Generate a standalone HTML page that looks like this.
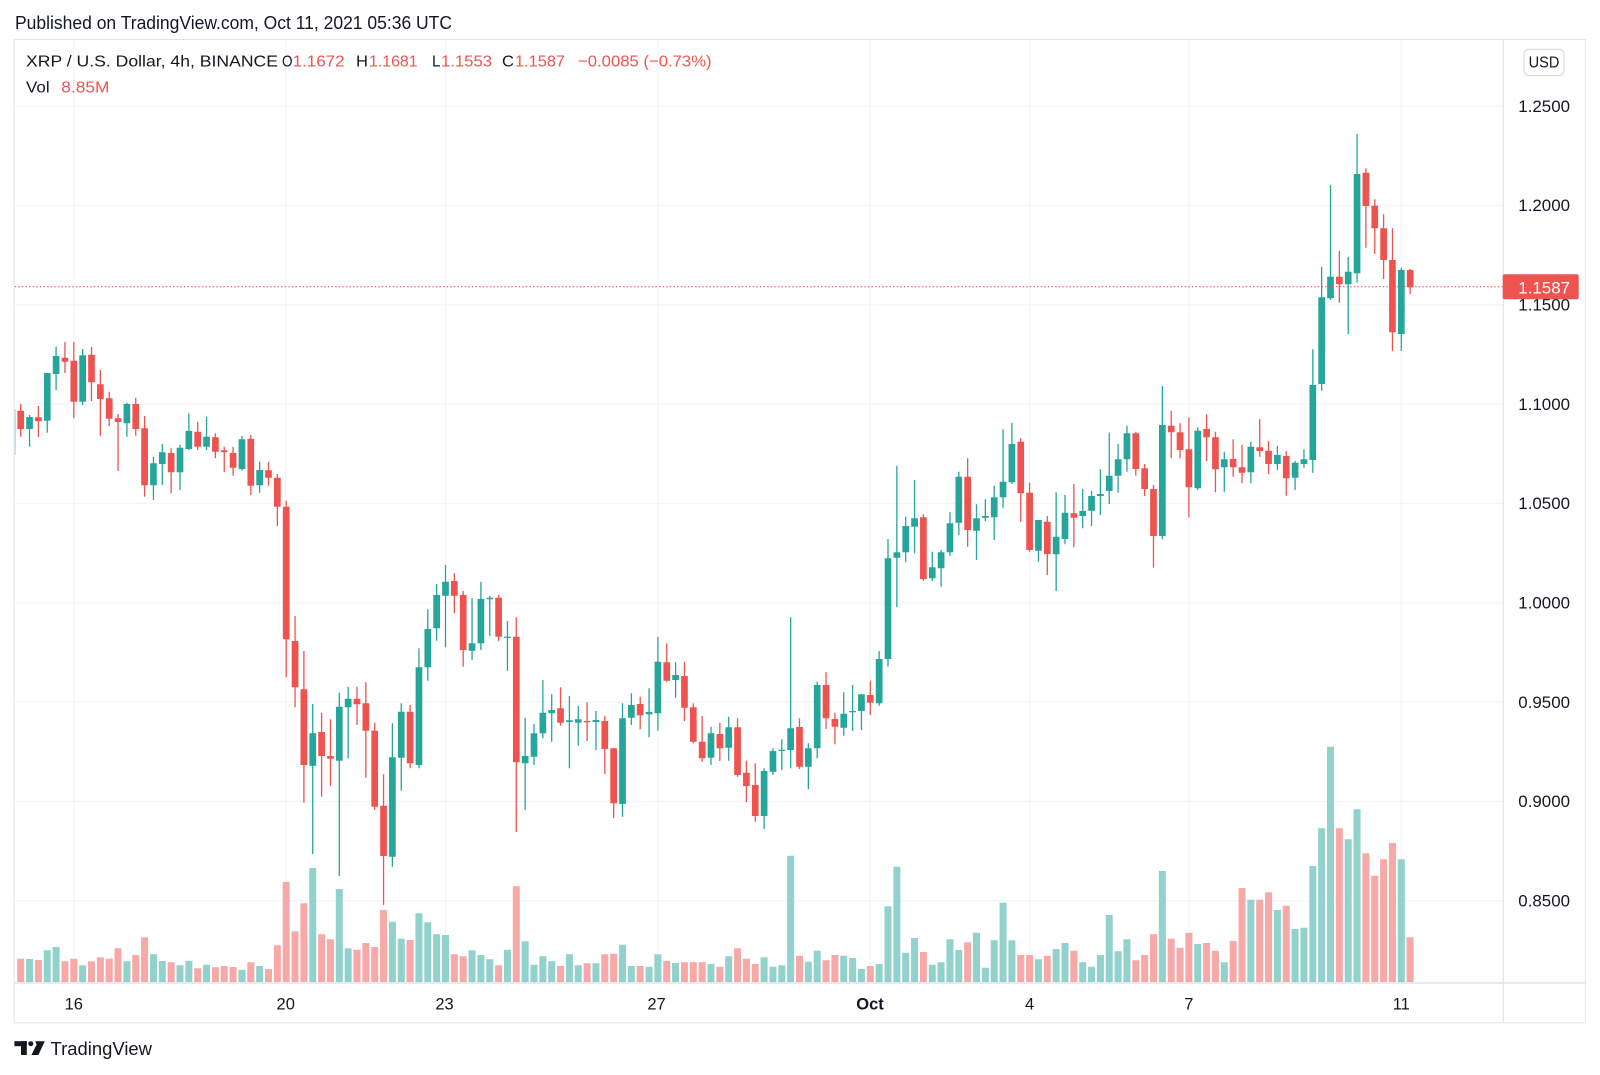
<!DOCTYPE html>
<html><head><meta charset="utf-8"><style>
html,body{margin:0;padding:0;background:#fff;}
svg{display:block;font-family:"Liberation Sans","DejaVu Sans",sans-serif;}
</style></head><body>
<svg width="1600" height="1075" viewBox="0 0 1600 1075" xmlns="http://www.w3.org/2000/svg">
<rect x="0" y="0" width="1600" height="1075" fill="#fff"/>
<text x="15" y="29" font-size="18" fill="#131722" textLength="437" lengthAdjust="spacingAndGlyphs">Published on TradingView.com, Oct 11, 2021 05:36 UTC</text>
<defs><clipPath id="cp"><rect x="14.7" y="40" width="1488.3" height="943"/></clipPath></defs>
<g stroke="#f0f3fa" stroke-width="1">
<path d="M14.7 106H1503M14.7 205.4H1503M14.7 304.7H1503M14.7 404H1503M14.7 503.4H1503M14.7 602.7H1503M14.7 702H1503M14.7 801.4H1503M14.7 900.7H1503"/>
<path d="M73.8 40V983M285.7 40V983M445.5 40V983M657.9 40V983M870.3 40V983M1029.6 40V983M1188.9 40V983M1401.3 40V983"/>
</g>
<g clip-path="url(#cp)">
<rect x="14.5" y="409" width="1" height="46" fill="#7cc8c0"/>
<g transform="translate(20.7,0) scale(8.85,1)" fill="none">
<path stroke="#92d2cc" stroke-width="0.791" d="M1 959V982M3 950.3V982M4 947V982M7 965.3V982M12 961.3V982M15 954.3V982M16 961V982M18 965.3V982M19 960.7V982M21 964.7V982M25 969.7V982M27 966V982M33 868V982M36 889V982M37 948.3V982M42 921.7V982M43 938.7V982M45 913.3V982M46 922.3V982M47 934.3V982M48 935V982M51 950.3V982M52 955V982M53 959.3V982M55 949.7V982M57 941.3V982M58 964.7V982M59 956.3V982M60 961.3V982M62 954.3V982M63 965.3V982M65 963.3V982M68 944.7V982M69 966V982M71 966.7V982M72 954.3V982M74 963V982M78 964V982M80 956.3V982M84 957.3V982M85 966.7V982M86 965.3V982M87 855.7V982M89 961.7V982M90 950.7V982M93 955.7V982M94 958V982M95 969V982M97 964V982M98 906.3V982M99 866.7V982M100 952.7V982M101 938V982M103 964.7V982M104 962.3V982M105 939.3V982M106 950V982M108 932.7V982M109 967.7V982M110 940.3V982M111 902.7V982M112 940.3V982M115 959.3V982M117 949V982M118 943V982M120 962.3V982M121 966.7V982M122 955V982M123 915V982M124 951.3V982M125 939.3V982M129 871V982M133 944V982M136 962.3V982M139 899.7V982M142 910V982M144 929V982M145 927.7V982M146 866V982M147 828.3V982M148 746.7V982M150 839.3V982M151 809.3V982M156 859.3V982"/>
<path stroke="#f7a9a7" stroke-width="0.791" d="M0 958.7V982M2 960V982M5 961.3V982M6 958.7V982M8 961.3V982M9 957.3V982M10 958.7V982M11 948.3V982M13 955V982M14 937.3V982M17 962.3V982M20 968.3V982M22 967.3V982M23 966V982M24 967V982M26 962.3V982M28 969V982M29 945.3V982M30 882V982M31 931.3V982M32 903.3V982M34 934.3V982M35 939.3V982M38 949.7V982M39 943V982M40 947V982M41 910V982M44 940V982M49 954.3V982M50 956.3V982M54 965.3V982M56 886.3V982M61 966V982M64 963.3V982M66 954.3V982M67 953.7V982M70 966V982M73 961V982M75 962.3V982M76 962.3V982M77 962.3V982M79 966.7V982M81 948.3V982M82 958.7V982M83 964V982M88 955.7V982M91 960.3V982M92 955V982M96 966V982M102 952V982M107 942.3V982M113 955V982M114 955V982M116 955.7V982M119 950.7V982M126 960.3V982M127 955V982M128 934.3V982M130 938.7V982M131 947.7V982M132 932.7V982M134 943V982M135 950.7V982M137 941V982M138 888V982M140 899.7V982M141 892.3V982M143 905.7V982M149 828.3V982M152 853.3V982M153 875.7V982M154 859.3V982M155 843V982M157 937.3V982"/>
<path stroke="#26a69a" stroke-width="0.147" d="M1 415V446.7M3 373V432.7M4 346.7V390M7 349V405M12 402.7V436.7M15 456.7V500M16 444V485M18 444.7V490M19 413.3V450M21 416.7V450M25 436V470.7M27 461.7V492.7M33 704V854M36 692.7V876M37 686.7V758.3M42 723.3V866.7M43 703.3V790.7M45 648.3V768.3M46 609.3V680.7M47 584V640.7M48 565V647.3M51 598.3V660M52 581.7V650M53 596V636M55 621V670.7M57 717.7V810M58 724V765M59 680V738.3M60 694.3V741.7M62 696V768.3M63 706V745.7M65 711V750M68 703.3V816.7M69 693.3V725M71 688.3V737.3M72 636.7V730.7M74 662.3V697.7M78 726.7V765M80 716.7V760.7M84 768.3V829M85 748.3V775M86 739.3V770M87 617.3V768.3M89 743.3V789.3M90 681.7V758.3M93 692.3V735.7M94 685V731M95 694.3V730M97 651V705.7M98 539V666.7M99 465.7V607.3M100 516.7V562.3M101 480V553.3M103 551.7V581M104 550V586.7M105 512.3V555.7M106 471.7V535M108 504.3V560M109 499.3V521M110 485.7V540M111 429.3V507.7M112 422.7V484M115 520V561.7M117 492.3V591M118 495V544.3M120 489V528.3M121 491V526M122 469.3V515M123 432.7V504M124 444V492.7M125 425.7V471.7M129 386V539.3M133 427.3V490M136 451.7V491.7M139 441.7V483.3M142 446V470M144 461V490M145 449.3V467.7M146 349.3V472.7M147 266.7V390.7M148 185V300M150 256.7V334M151 134V282.7M156 267.7V351"/>
<path stroke="#26a69a" stroke-width="0.757" d="M1 417V429M3 373V420.7M4 356V374M7 355.3V401.7M12 404V423.3M15 463.3V485.3M16 452.3V464M18 447.7V472.3M19 431V449M21 436.7V446.7M25 439.3V469M27 470V485.3M33 733.3V765.7M36 706.7V760.7M37 698.7V707.3M42 757.3V856.7M43 711.7V757.7M45 667.3V765M46 629V667.3M47 595V628.3M48 581.7V595.7M51 643.3V650.7M52 599V643.3M53 597.7V599.3M55 636.7V638M57 756V763.3M58 733.3V756.7M59 712.7V733.3M60 710V713.3M62 720.3V722M63 719.3V722.7M65 720V722M68 718.3V804M69 705V717.7M71 712V714.3M72 661.7V713.3M74 675V680M78 733.3V757.7M80 727.3V747.7M84 771V816M85 751V771.7M86 749.7V751M87 728.3V750M89 748.3V766.7M90 685V748.3M93 713.7V727.7M94 711V712.3M95 694.3V711M97 659V703.3M98 558.3V659M99 552.3V557.7M100 526V552.3M101 518.3V526.7M103 567.3V578.3M104 552.3V568.3M105 523.3V552.3M106 476.7V522.7M108 518.3V530.7M109 516V517.7M110 497.3V517.3M111 481.7V497.3M112 444V482.3M115 520V550.7M117 536.7V554.3M118 512.7V539M120 511V516M121 496V510.7M122 494V496M123 475.7V491M124 459.3V475.7M125 433.3V459.3M129 425V536M133 430.7V488.3M136 459.3V467.3M139 446.7V472.3M142 455V464M144 462.7V477.7M145 459.3V464M146 385V460M147 297.3V384M148 276.7V298.3M150 271.7V284.3M151 174V273.3M156 270V334"/>
<path stroke="#ef5350" stroke-width="0.147" d="M0 404V436.7M2 406V437M5 342V373M6 342V418.3M8 347V401M9 370V435.7M10 391.7V426M11 414V471M13 397.7V435.7M14 416V496.7M17 448.3V493.3M20 421.7V450M22 433.3V458.3M23 446.7V472.3M24 446.7V475.7M26 435V495M28 461.7V485.7M29 474V526M30 500.7V677.3M31 616V707.3M32 651V802.7M34 712.7V796.7M35 719.3V786M38 686.7V725M39 682.3V777.7M40 722.7V810M41 774.3V905M44 705V768.3M49 573.3V613.3M50 591V666.7M54 595V641M56 617.3V832M61 687.3V725.7M64 702.3V741M66 716V774M67 748.3V818.3M70 696.7V729.3M73 643.3V681.7M75 661.7V721M76 703.3V743.3M77 716V761.7M79 722.7V761M81 718.3V776.7M82 760.7V802.3M83 763.3V821.7M88 718.3V769M91 672.3V729M92 712.7V744.3M96 680.7V715M102 514.3V580.7M107 458.3V546.7M113 438.3V521.7M114 482.7V551.7M116 516V575M119 484V547.3M126 431.7V475.7M127 464V496M128 485V567.7M130 410.7V458.3M131 423.3V458.3M132 417.3V517.3M134 414.3V461M135 431.7V492.3M137 439.3V476.7M138 445V483.3M140 419V456.7M141 441V474.3M143 451V495.7M149 251V302.7M152 168.3V247.7M153 199.3V254M154 214.3V279M155 228.3V351M157 269V294"/>
<path stroke="#ef5350" stroke-width="0.757" d="M0 410.7V429M2 417.3V421.3M5 357.7V361.7M6 360.7V401.7M8 354.7V382.3M9 384.3V399M10 398.3V418.7M11 418.3V422M13 404V429M14 428.3V485.3M17 453V472.3M20 431.7V446.7M22 437.3V451.7M23 450.3V452.3M24 453V467.7M26 438.7V485.7M28 470.3V477.7M29 477.7V506.7M30 506.7V639.3M31 641V687.3M32 689.3V765M34 732V756M35 756V758.7M38 698.7V704.3M39 703.3V730.7M40 730.7V806.7M41 805.7V856M44 711.7V763.3M49 581V595.7M50 595V650M54 597.7V636.7M56 636.7V762.3M61 708.3V722.7M64 721V722.3M66 721V749M67 748.3V803.3M70 704V715.3M73 662.3V680.7M75 676V707.7M76 707.3V741.7M77 741.7V758.3M79 734V748.3M81 727.3V775M82 772.7V786M83 785V816M88 727V766.7M91 685V718.3M92 719V726.7M96 695V702.7M102 517.3V579M107 476.7V530M113 441.7V493.3M114 492.7V550M116 521.7V554M119 513.3V517.7M126 433.3V469M127 468.3V489M128 489V536M130 425.7V432.3M131 432.3V450M132 449.3V487.3M134 429V437.3M135 437.3V469.3M137 459V467.3M138 467.3V472.7M140 447.3V451M141 450.7V464M143 456V478.3M149 276.7V284.3M152 172.7V206M153 205.7V228.3M154 228.3V260M155 260V332.3M157 270V287.3"/>
</g>
</g>
<line x1="14.7" y1="286.7" x2="1503" y2="286.7" stroke="#ef5350" stroke-width="1.2" stroke-dasharray="1.4 2.2"/>
<!-- legend -->
<g font-size="16">
<text x="26" y="66.7" fill="#131722" textLength="252" lengthAdjust="spacingAndGlyphs">XRP / U.S. Dollar, 4h, BINANCE</text>
<text x="282" y="66.7" fill="#131722" textLength="10.5" lengthAdjust="spacingAndGlyphs">O</text>
<text x="292.6" y="66.7" fill="#ef5350" textLength="52" lengthAdjust="spacingAndGlyphs">1.1672</text>
<text x="356" y="66.7" fill="#131722" textLength="12" lengthAdjust="spacingAndGlyphs">H</text>
<text x="369" y="66.7" fill="#ef5350" textLength="48.6" lengthAdjust="spacingAndGlyphs">1.1681</text>
<text x="432" y="66.7" fill="#131722" textLength="8.5" lengthAdjust="spacingAndGlyphs">L</text>
<text x="441" y="66.7" fill="#ef5350" textLength="51" lengthAdjust="spacingAndGlyphs">1.1553</text>
<text x="502" y="66.7" fill="#131722" textLength="12" lengthAdjust="spacingAndGlyphs">C</text>
<text x="515" y="66.7" fill="#ef5350" textLength="50" lengthAdjust="spacingAndGlyphs">1.1587</text>
<text x="578" y="66.7" fill="#ef5350" textLength="133.6" lengthAdjust="spacingAndGlyphs">−0.0085 (−0.73%)</text>
<text x="26" y="92.7" fill="#131722" textLength="23.6" lengthAdjust="spacingAndGlyphs">Vol</text>
<text x="61.3" y="92.7" fill="#ef5350" textLength="48.2" lengthAdjust="spacingAndGlyphs">8.85M</text>
</g>
<!-- axes lines -->
<rect x="14.2" y="39.5" width="1571.1" height="983.3" fill="none" stroke="#e0e3eb" stroke-width="1"/>
<line x1="1503.3" y1="39.5" x2="1503.3" y2="1022.8" stroke="#e0e3eb" stroke-width="1.2"/>
<line x1="14.2" y1="983" x2="1585.3" y2="983" stroke="#e0e3eb" stroke-width="1.6"/>
<!-- price axis -->
<rect x="1524" y="49.3" width="40" height="26.4" rx="5" fill="#fff" stroke="#d1d4dc" stroke-width="1"/>
<text x="1544" y="67.6" font-size="16" fill="#131722" text-anchor="middle" textLength="30.7" lengthAdjust="spacingAndGlyphs">USD</text>
<g font-size="17" fill="#131722">
<text x="1518.3" y="111.8" textLength="51.7" lengthAdjust="spacingAndGlyphs">1.2500</text>
<text x="1518.3" y="211.2" textLength="51.7" lengthAdjust="spacingAndGlyphs">1.2000</text>
<text x="1518.3" y="310.5" textLength="51.7" lengthAdjust="spacingAndGlyphs">1.1500</text>
<text x="1518.3" y="409.8" textLength="51.7" lengthAdjust="spacingAndGlyphs">1.1000</text>
<text x="1518.3" y="509.2" textLength="51.7" lengthAdjust="spacingAndGlyphs">1.0500</text>
<text x="1518.3" y="608.5" textLength="51.7" lengthAdjust="spacingAndGlyphs">1.0000</text>
<text x="1518.3" y="707.8" textLength="51.7" lengthAdjust="spacingAndGlyphs">0.9500</text>
<text x="1518.3" y="807.2" textLength="51.7" lengthAdjust="spacingAndGlyphs">0.9000</text>
<text x="1518.3" y="906.5" textLength="51.7" lengthAdjust="spacingAndGlyphs">0.8500</text>
</g>
<rect x="1502.7" y="274.3" width="76" height="25" rx="2" fill="#ef5350"/>
<text x="1518.3" y="293.3" font-size="17" fill="#fff" textLength="51.7" lengthAdjust="spacingAndGlyphs">1.1587</text>
<!-- time axis -->
<g font-size="16.5" fill="#131722" text-anchor="middle">
<text x="73.8" y="1009.3">16</text>
<text x="285.7" y="1009.3">20</text>
<text x="444.5" y="1009.3">23</text>
<text x="656.5" y="1009.3">27</text>
<text x="870" y="1009.3" font-weight="bold">Oct</text>
<text x="1029.6" y="1009.3">4</text>
<text x="1188.9" y="1009.3">7</text>
<text x="1401.3" y="1009.3">11</text>
</g>
<!-- logo -->
<g fill="#131722">
<rect x="14.4" y="1041.2" width="12.4" height="5"/>
<rect x="21" y="1041.2" width="5.8" height="13.8"/>
<circle cx="30.8" cy="1043.7" r="2.5"/>
<polygon points="35.2,1041.2 44.8,1041.2 38.4,1055 31.4,1055 36.6,1044.5"/>
</g>
<text x="50.5" y="1055" font-size="18" fill="#131722" textLength="101.5" lengthAdjust="spacingAndGlyphs">TradingView</text>
</svg>
</body></html>
